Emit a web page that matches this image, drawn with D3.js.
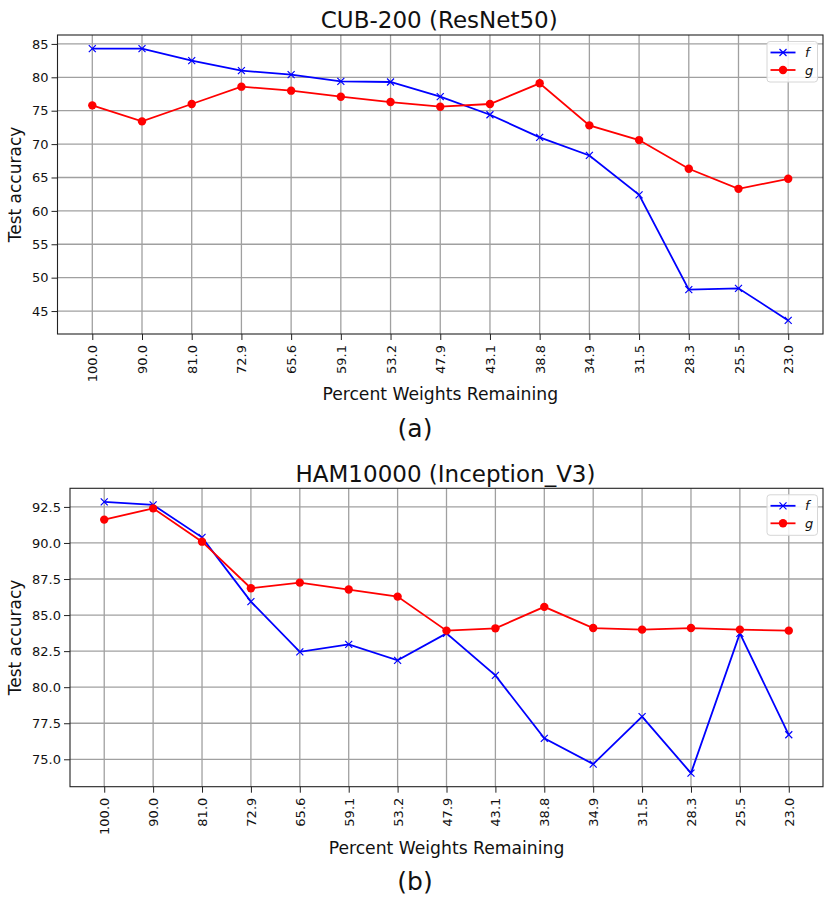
<!DOCTYPE html>
<html>
<head>
<meta charset="utf-8">
<script src="https://cdn.jsdelivr.net/npm/d3@7"></script>
<style>
  html, body { margin: 0; padding: 0; background: #fff; }
  svg { display: block; }
  text { font-family: "DejaVu Sans", sans-serif; fill: #111; }
</style>
</head>
<body>
<svg id="chart" width="830" height="903"></svg>
<script>
// ---------- data ----------
const categories = ["100.0","90.0","81.0","72.9","65.6","59.1","53.2","47.9","43.1","38.8","34.9","31.5","28.3","25.5","23.0"];

const cubF = [84.3, 84.3, 82.5, 81.0, 80.4, 79.4, 79.3, 77.1, 74.4, 71.0, 68.3, 62.4, 48.2, 48.4, 43.6];
const cubG = [75.8, 73.4, 76.0, 78.6, 78.0, 77.1, 76.3, 75.6, 76.0, 79.1, 72.8, 70.6, 66.3, 63.3, 64.8];
const cubTicks = [45, 50, 55, 60, 65, 70, 75, 80, 85];

const hamF = [92.85, 92.64, 90.39, 85.93, 82.45, 82.97, 81.86, 83.73, 80.82, 76.45, 74.67, 77.96, 74.04, 83.73, 76.70];
const hamG = [91.62, 92.40, 90.09, 86.86, 87.25, 86.77, 86.28, 83.92, 84.08, 85.57, 84.10, 83.99, 84.10, 83.99, 83.92];
const hamTicks = [75.0, 77.5, 80.0, 82.5, 85.0, 87.5, 90.0, 92.5];

const seriesNames = ["f", "g"];
const seriesColors = ["#0000ff", "#ff0000"];

// ---------- drawing ----------
const svg = d3.select("#chart");

function panel(opt) {
  const { left, right, top, bottom, title, fData, gData, yTicks, tickFmt, titleY, xlabelY, caption, captionY } = opt;
  const g = svg.append("g");
  const n = categories.length;
  const x = d3.scaleLinear().domain([-0.05 * (n - 1), (n - 1) * 1.05]).range([left, right]);
  const all = fData.concat(gData);
  const lo = d3.min(all), hi = d3.max(all), pad = (hi - lo) * 0.05;
  const y = d3.scaleLinear().domain([lo - pad, hi + pad]).range([bottom, top]);

  // grid
  g.append("g").selectAll("line").data(d3.range(n)).join("line")
    .attr("x1", i => x(i)).attr("x2", i => x(i))
    .attr("y1", top).attr("y2", bottom)
    .attr("stroke", "#a0a0a0").attr("stroke-width", 1.3);
  g.append("g").selectAll("line").data(yTicks).join("line")
    .attr("x1", left).attr("x2", right)
    .attr("y1", d => y(d)).attr("y2", d => y(d))
    .attr("stroke", "#a0a0a0").attr("stroke-width", 1.3);

  // axes
  const yAxis = d3.axisLeft(y).tickValues(yTicks).tickFormat(tickFmt).tickSizeInner(6).tickSizeOuter(0).tickPadding(3);
  const ya = g.append("g").attr("transform", `translate(${left},0)`).call(yAxis);
  ya.select(".domain").remove();
  ya.selectAll("line").attr("stroke", "#222").attr("stroke-width", 1);
  ya.selectAll("text").attr("font-size", "13px").attr("font-family", "DejaVu Sans").attr("fill", "#222");

  const xAxis = d3.axisBottom(x).tickValues(d3.range(n)).tickFormat(i => categories[i]).tickSizeInner(6).tickSizeOuter(0);
  const xa = g.append("g").attr("transform", `translate(0,${bottom})`).call(xAxis);
  xa.select(".domain").remove();
  xa.selectAll("line").attr("stroke", "#222").attr("stroke-width", 1);
  xa.selectAll("text")
    .attr("font-size", "13px").attr("font-family", "DejaVu Sans").attr("fill", "#222")
    .attr("transform", "rotate(-90)")
    .attr("text-anchor", "end")
    .attr("x", -11).attr("y", 0).attr("dy", "0.35em");

  // frame
  g.append("rect").attr("x", left).attr("y", top).attr("width", right - left).attr("height", bottom - top)
    .attr("fill", "none").attr("stroke", "#222").attr("stroke-width", 1.1);

  // lines
  const line = d3.line().x((d, i) => x(i)).y(d => y(d));
  g.append("path").datum(fData).attr("d", line).attr("fill", "none")
    .attr("stroke", seriesColors[0]).attr("stroke-width", 1.8);
  g.append("path").datum(gData).attr("d", line).attr("fill", "none")
    .attr("stroke", seriesColors[1]).attr("stroke-width", 1.8);

  const cross = (cx, cy, s) => `M${cx - s},${cy - s}L${cx + s},${cy + s}M${cx - s},${cy + s}L${cx + s},${cy - s}`;
  g.append("g").selectAll("path").data(fData).join("path")
    .attr("d", (d, i) => cross(x(i), y(d), 3.5))
    .attr("stroke", seriesColors[0]).attr("stroke-width", 1.2).attr("fill", "none");
  g.append("g").selectAll("circle").data(gData).join("circle")
    .attr("cx", (d, i) => x(i)).attr("cy", d => y(d)).attr("r", 4.2)
    .attr("fill", seriesColors[1]);

  // title
  g.append("text").attr("x", (left + right) / 2 - 1).attr("y", titleY)
    .attr("text-anchor", "middle").attr("font-size", "23px").text(title);
  // x label
  g.append("text").attr("x", (left + right) / 2).attr("y", xlabelY)
    .attr("text-anchor", "middle").attr("font-size", "17.2px").text("Percent Weights Remaining");
  // y label
  g.append("text").attr("transform", `translate(21,${(top + bottom) / 2}) rotate(-90)`)
    .attr("text-anchor", "middle").attr("font-size", "17px").text("Test accuracy");
  // caption
  g.append("text").attr("x", 415).attr("y", captionY)
    .attr("text-anchor", "middle").attr("font-size", "25px")
    .attr("font-family", "Lato, 'Open Sans', sans-serif").attr("fill", "#000").text(caption);

  // legend
  const lx = right - 56, ly = top + 6.5;
  const lg = g.append("g").attr("transform", `translate(${lx},${ly})`);
  lg.append("rect").attr("x", 0).attr("y", 0).attr("width", 50.5).attr("height", 40.5)
    .attr("rx", 3).attr("fill", "#fff").attr("fill-opacity", 0.85)
    .attr("stroke", "#d6d6d6").attr("stroke-width", 1);
  seriesNames.forEach((nm, k) => {
    const ry = 11 + k * 17.5;
    lg.append("line").attr("x1", 3.5).attr("x2", 28.5).attr("y1", ry).attr("y2", ry)
      .attr("stroke", seriesColors[k]).attr("stroke-width", 1.8);
    if (k === 0) {
      lg.append("path").attr("d", cross(16, ry, 3.5)).attr("stroke", seriesColors[k]).attr("stroke-width", 1.2);
    } else {
      lg.append("circle").attr("cx", 16).attr("cy", ry).attr("r", 4.2).attr("fill", seriesColors[k]);
    }
    lg.append("text").attr("x", 38).attr("y", ry).attr("dy", "0.35em")
      .attr("font-size", "13px").attr("font-style", "italic").attr("fill", "#222").text(nm);
  });
}

panel({
  left: 57.5, right: 823, top: 35, bottom: 334,
  title: "CUB-200 (ResNet50)", fData: cubF, gData: cubG, yTicks: cubTicks,
  tickFmt: d3.format("d"), titleY: 28.3, xlabelY: 400, caption: "(a)", captionY: 437
});
panel({
  left: 70, right: 823, top: 488.3, bottom: 786.7,
  title: "HAM10000 (Inception_V3)", fData: hamF, gData: hamG, yTicks: hamTicks,
  tickFmt: d3.format(".1f"), titleY: 481.5, xlabelY: 853.5, caption: "(b)", captionY: 890
});
</script>
</body>
</html>
